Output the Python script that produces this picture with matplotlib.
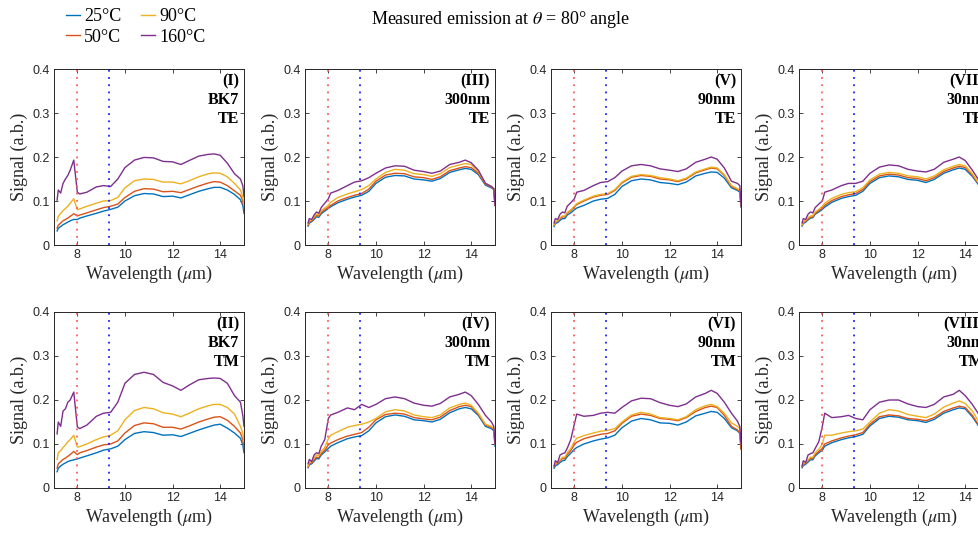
import numpy as np
import matplotlib
matplotlib.use("Agg")
from matplotlib import pyplot as plt

plt.rcParams['font.family'] = 'Liberation Sans'
plt.rcParams['mathtext.fontset'] = 'stix'

# wavelength samples (um)
wl = np.array([7.15, 7.2, 7.3, 7.4, 7.5, 7.6, 7.7, 7.85, 8.0, 8.1, 8.4, 8.8, 9.1, 9.4, 9.7, 10.0,
               10.4, 10.8, 11.2, 11.6, 12.0, 12.35, 12.7, 13.1, 13.5, 13.75, 14.0, 14.3, 14.6,
               14.85, 14.95, 15.0])

temps = ['25°C', '50°C', '90°C', '160°C']

# panel (I) BK7 TE
bk7_te_25 = [0.032, 0.038, 0.042, 0.046, 0.049, 0.052, 0.055, 0.058, 0.058, 0.061, 0.066, 0.072, 0.077, 0.081, 0.086, 0.100, 0.112, 0.117, 0.116, 0.110, 0.111, 0.107, 0.114, 0.122, 0.128, 0.131, 0.131, 0.125, 0.115, 0.103, 0.090, 0.072]
bk7_te_50 = [0.038, 0.045, 0.050, 0.055, 0.058, 0.061, 0.065, 0.071, 0.066, 0.068, 0.073, 0.080, 0.085, 0.088, 0.093, 0.108, 0.122, 0.128, 0.127, 0.121, 0.122, 0.119, 0.126, 0.134, 0.141, 0.144, 0.143, 0.135, 0.123, 0.113, 0.100, 0.082]
bk7_te_90 = [0.055, 0.065, 0.072, 0.078, 0.083, 0.088, 0.095, 0.105, 0.080, 0.082, 0.088, 0.095, 0.100, 0.101, 0.108, 0.130, 0.146, 0.150, 0.149, 0.143, 0.143, 0.139, 0.146, 0.155, 0.162, 0.164, 0.163, 0.155, 0.140, 0.125, 0.110, 0.090]
bk7_te_160 = [0.102, 0.125, 0.118, 0.140, 0.150, 0.158, 0.170, 0.193, 0.120, 0.116, 0.120, 0.132, 0.135, 0.133, 0.150, 0.176, 0.193, 0.199, 0.198, 0.190, 0.189, 0.183, 0.192, 0.202, 0.206, 0.207, 0.204, 0.186, 0.162, 0.150, 0.135, 0.110]

# panel (II) BK7 TM
bk7_tm_25 = [0.037, 0.045, 0.050, 0.054, 0.057, 0.060, 0.062, 0.064, 0.066, 0.068, 0.073, 0.080, 0.086, 0.089, 0.095, 0.110, 0.124, 0.128, 0.126, 0.120, 0.121, 0.117, 0.124, 0.132, 0.139, 0.143, 0.145, 0.136, 0.125, 0.113, 0.098, 0.080]
bk7_tm_50 = [0.045, 0.055, 0.060, 0.065, 0.068, 0.072, 0.076, 0.083, 0.076, 0.080, 0.085, 0.093, 0.098, 0.100, 0.107, 0.125, 0.142, 0.148, 0.146, 0.138, 0.138, 0.134, 0.141, 0.150, 0.157, 0.161, 0.162, 0.154, 0.140, 0.125, 0.110, 0.090]
bk7_tm_90 = [0.065, 0.080, 0.085, 0.092, 0.098, 0.105, 0.110, 0.120, 0.093, 0.094, 0.100, 0.110, 0.116, 0.120, 0.130, 0.155, 0.176, 0.183, 0.180, 0.171, 0.168, 0.162, 0.170, 0.180, 0.187, 0.190, 0.190, 0.183, 0.168, 0.140, 0.125, 0.105]
bk7_tm_160 = [0.123, 0.150, 0.140, 0.175, 0.180, 0.195, 0.200, 0.218, 0.139, 0.135, 0.143, 0.163, 0.170, 0.172, 0.195, 0.238, 0.258, 0.263, 0.258, 0.240, 0.232, 0.222, 0.234, 0.246, 0.249, 0.250, 0.249, 0.238, 0.210, 0.195, 0.165, 0.140]

# panel (III) 300nm TE
f300_te_25 = [0.043, 0.050, 0.053, 0.058, 0.064, 0.063, 0.071, 0.077, 0.083, 0.087, 0.096, 0.104, 0.109, 0.113, 0.122, 0.140, 0.154, 0.158, 0.157, 0.150, 0.148, 0.145, 0.151, 0.165, 0.171, 0.174, 0.172, 0.160, 0.136, 0.130, 0.126, 0.090]
f300_te_50 = [0.045, 0.052, 0.055, 0.061, 0.067, 0.066, 0.074, 0.080, 0.086, 0.090, 0.100, 0.108, 0.113, 0.117, 0.127, 0.145, 0.159, 0.163, 0.162, 0.155, 0.153, 0.149, 0.155, 0.169, 0.175, 0.178, 0.176, 0.163, 0.138, 0.132, 0.127, 0.090]
f300_te_90 = [0.048, 0.055, 0.057, 0.064, 0.070, 0.069, 0.078, 0.084, 0.090, 0.097, 0.108, 0.116, 0.121, 0.126, 0.135, 0.150, 0.165, 0.172, 0.170, 0.162, 0.160, 0.156, 0.162, 0.176, 0.182, 0.185, 0.183, 0.166, 0.140, 0.133, 0.128, 0.090]
f300_te_160 = [0.050, 0.060, 0.058, 0.068, 0.075, 0.072, 0.085, 0.095, 0.105, 0.118, 0.124, 0.135, 0.143, 0.146, 0.153, 0.163, 0.175, 0.180, 0.179, 0.170, 0.167, 0.163, 0.168, 0.183, 0.188, 0.193, 0.187, 0.170, 0.140, 0.133, 0.128, 0.090]

# panel (IV) 300nm TM
f300_tm_25 = [0.046, 0.053, 0.055, 0.061, 0.067, 0.066, 0.075, 0.082, 0.090, 0.095, 0.103, 0.112, 0.116, 0.119, 0.130, 0.148, 0.162, 0.166, 0.163, 0.155, 0.153, 0.150, 0.156, 0.171, 0.180, 0.183, 0.180, 0.165, 0.140, 0.135, 0.130, 0.095]
f300_tm_50 = [0.048, 0.055, 0.057, 0.064, 0.070, 0.069, 0.078, 0.086, 0.098, 0.102, 0.110, 0.118, 0.122, 0.126, 0.138, 0.155, 0.167, 0.170, 0.168, 0.160, 0.157, 0.155, 0.161, 0.176, 0.185, 0.188, 0.185, 0.168, 0.143, 0.138, 0.133, 0.100]
f300_tm_90 = [0.050, 0.058, 0.060, 0.068, 0.075, 0.074, 0.083, 0.092, 0.112, 0.120, 0.128, 0.138, 0.142, 0.145, 0.150, 0.158, 0.173, 0.178, 0.175, 0.166, 0.162, 0.160, 0.166, 0.182, 0.190, 0.193, 0.188, 0.170, 0.145, 0.140, 0.135, 0.100]
f300_tm_160 = [0.055, 0.065, 0.060, 0.075, 0.080, 0.078, 0.095, 0.110, 0.158, 0.166, 0.172, 0.182, 0.178, 0.190, 0.183, 0.190, 0.203, 0.207, 0.203, 0.193, 0.188, 0.186, 0.192, 0.207, 0.213, 0.218, 0.210, 0.190, 0.165, 0.150, 0.140, 0.100]

# panel (V) 90nm TE
f90_te_25 = [0.042, 0.049, 0.051, 0.056, 0.060, 0.060, 0.068, 0.073, 0.080, 0.084, 0.090, 0.100, 0.104, 0.106, 0.115, 0.133, 0.146, 0.150, 0.148, 0.142, 0.140, 0.137, 0.143, 0.157, 0.163, 0.166, 0.165, 0.152, 0.130, 0.124, 0.120, 0.086]
f90_te_50 = [0.045, 0.052, 0.054, 0.060, 0.064, 0.064, 0.072, 0.078, 0.086, 0.092, 0.100, 0.109, 0.113, 0.115, 0.124, 0.141, 0.154, 0.158, 0.156, 0.150, 0.148, 0.144, 0.150, 0.164, 0.171, 0.175, 0.173, 0.158, 0.133, 0.126, 0.123, 0.088]
f90_te_90 = [0.046, 0.053, 0.055, 0.062, 0.066, 0.066, 0.074, 0.080, 0.088, 0.094, 0.102, 0.111, 0.115, 0.117, 0.126, 0.143, 0.156, 0.160, 0.158, 0.153, 0.150, 0.146, 0.152, 0.166, 0.173, 0.177, 0.175, 0.160, 0.135, 0.128, 0.125, 0.090]
f90_te_160 = [0.050, 0.060, 0.058, 0.070, 0.075, 0.073, 0.088, 0.096, 0.105, 0.120, 0.124, 0.135, 0.142, 0.144, 0.153, 0.168, 0.180, 0.183, 0.180, 0.173, 0.170, 0.167, 0.173, 0.188, 0.195, 0.200, 0.195, 0.175, 0.145, 0.140, 0.135, 0.090]

# panel (VI) 90nm TM
f90_tm_25 = [0.045, 0.050, 0.053, 0.058, 0.062, 0.063, 0.071, 0.079, 0.088, 0.092, 0.100, 0.107, 0.111, 0.114, 0.120, 0.137, 0.152, 0.158, 0.155, 0.148, 0.147, 0.143, 0.150, 0.164, 0.170, 0.174, 0.172, 0.158, 0.137, 0.130, 0.124, 0.090]
f90_tm_50 = [0.048, 0.054, 0.056, 0.062, 0.067, 0.067, 0.076, 0.085, 0.098, 0.104, 0.112, 0.118, 0.122, 0.124, 0.130, 0.147, 0.163, 0.168, 0.165, 0.158, 0.156, 0.153, 0.160, 0.174, 0.183, 0.186, 0.183, 0.165, 0.140, 0.132, 0.125, 0.088]
f90_tm_90 = [0.050, 0.056, 0.058, 0.064, 0.070, 0.070, 0.080, 0.090, 0.105, 0.113, 0.119, 0.125, 0.129, 0.131, 0.135, 0.150, 0.166, 0.172, 0.168, 0.160, 0.158, 0.155, 0.162, 0.178, 0.187, 0.190, 0.185, 0.170, 0.148, 0.140, 0.135, 0.100]
f90_tm_160 = [0.050, 0.062, 0.058, 0.075, 0.078, 0.080, 0.090, 0.110, 0.145, 0.168, 0.163, 0.165, 0.170, 0.172, 0.170, 0.183, 0.198, 0.204, 0.203, 0.194, 0.188, 0.185, 0.191, 0.207, 0.215, 0.222, 0.215, 0.195, 0.170, 0.152, 0.140, 0.100]

# panel (VII) 30nm TE
f30_te_25 = [0.043, 0.049, 0.052, 0.057, 0.061, 0.062, 0.070, 0.075, 0.081, 0.086, 0.097, 0.106, 0.110, 0.113, 0.122, 0.140, 0.153, 0.157, 0.155, 0.149, 0.147, 0.142, 0.149, 0.163, 0.171, 0.175, 0.172, 0.156, 0.134, 0.127, 0.123, 0.088]
f30_te_50 = [0.045, 0.051, 0.054, 0.059, 0.063, 0.064, 0.072, 0.078, 0.084, 0.090, 0.101, 0.110, 0.114, 0.117, 0.126, 0.144, 0.157, 0.161, 0.159, 0.153, 0.151, 0.146, 0.153, 0.167, 0.175, 0.179, 0.176, 0.159, 0.136, 0.129, 0.125, 0.089]
f30_te_90 = [0.046, 0.053, 0.056, 0.062, 0.066, 0.067, 0.075, 0.081, 0.088, 0.095, 0.106, 0.115, 0.119, 0.121, 0.130, 0.148, 0.161, 0.165, 0.163, 0.157, 0.155, 0.150, 0.157, 0.171, 0.179, 0.183, 0.180, 0.162, 0.138, 0.131, 0.127, 0.090]
f30_te_160 = [0.050, 0.060, 0.058, 0.070, 0.075, 0.073, 0.085, 0.093, 0.100, 0.120, 0.125, 0.135, 0.140, 0.140, 0.145, 0.163, 0.177, 0.182, 0.180, 0.172, 0.168, 0.166, 0.172, 0.188, 0.195, 0.200, 0.192, 0.170, 0.145, 0.138, 0.132, 0.090]

# panel (VIII) 30nm TM
f30_tm_25 = [0.046, 0.051, 0.054, 0.059, 0.064, 0.064, 0.073, 0.080, 0.086, 0.095, 0.103, 0.110, 0.114, 0.117, 0.122, 0.141, 0.158, 0.163, 0.161, 0.155, 0.153, 0.149, 0.156, 0.170, 0.178, 0.182, 0.180, 0.162, 0.138, 0.131, 0.125, 0.090]
f30_tm_50 = [0.048, 0.054, 0.056, 0.062, 0.067, 0.067, 0.076, 0.083, 0.090, 0.100, 0.107, 0.114, 0.118, 0.121, 0.126, 0.145, 0.162, 0.166, 0.164, 0.158, 0.156, 0.153, 0.160, 0.174, 0.182, 0.186, 0.183, 0.165, 0.140, 0.133, 0.127, 0.092]
f30_tm_90 = [0.050, 0.056, 0.058, 0.064, 0.070, 0.070, 0.080, 0.088, 0.100, 0.120, 0.120, 0.125, 0.128, 0.130, 0.134, 0.150, 0.170, 0.178, 0.175, 0.167, 0.163, 0.160, 0.168, 0.184, 0.193, 0.198, 0.192, 0.175, 0.148, 0.140, 0.135, 0.100]
f30_tm_160 = [0.050, 0.062, 0.058, 0.075, 0.078, 0.080, 0.090, 0.105, 0.140, 0.170, 0.160, 0.162, 0.165, 0.158, 0.155, 0.178, 0.195, 0.200, 0.200, 0.191, 0.185, 0.183, 0.190, 0.207, 0.213, 0.222, 0.210, 0.190, 0.165, 0.150, 0.140, 0.100]

panels = [
    ("(I)\nBK7\nTE", [bk7_te_25, bk7_te_50, bk7_te_90, bk7_te_160]),
    ("(II)\nBK7\nTM", [bk7_tm_25, bk7_tm_50, bk7_tm_90, bk7_tm_160]),
    ("(III)\n300nm\nTE", [f300_te_25, f300_te_50, f300_te_90, f300_te_160]),
    ("(IV)\n300nm\nTM", [f300_tm_25, f300_tm_50, f300_tm_90, f300_tm_160]),
    ("(V)\n90nm\nTE", [f90_te_25, f90_te_50, f90_te_90, f90_te_160]),
    ("(VI)\n90nm\nTM", [f90_tm_25, f90_tm_50, f90_tm_90, f90_tm_160]),
    ("(VII)\n30nm\nTE", [f30_te_25, f30_te_50, f30_te_90, f30_te_160]),
    ("(VIII)\n30nm\nTM", [f30_tm_25, f30_tm_50, f30_tm_90, f30_tm_160]),
]

colors = ['#0072BD', '#D95319', '#EDB120', '#7E2F8E']
serif = 'Liberation Serif'
W, H = 979, 536

fig = plt.figure(figsize=(W/100, H/100), dpi=100)

lefts = [54, 305, 551, 799]
tops = [69, 312]
aw, ah = 190, 176

handles = []
for i, (label, series) in enumerate(panels):
    col, row = i // 2, i % 2
    ax = fig.add_axes([lefts[col]/W, 1 - (tops[row] + ah)/H, aw/W, ah/H])
    for s, c, t in zip(series, colors, temps):
        ln, = ax.plot(wl, s, color=c, lw=1.0, label=t)
        if i == 0:
            handles.append(ln)
    ax.axvline(8.0, color='#ff5a5a', lw=1.3, ls=(0, (1, 3)))
    ax.axvline(9.33, color='#2020ff', lw=1.3, ls=(0, (1, 3)))
    ax.set_xlim(7.02, 15)
    ax.set_ylim(0, 0.4)
    ax.set_xticks([8, 10, 12, 14])
    ax.set_yticks([0, 0.1, 0.2, 0.3, 0.4])
    ax.set_yticklabels(['0', '0.1', '0.2', '0.3', '0.4'])
    ax.tick_params(direction='in', top=True, right=True, length=3, width=0.6,
                   labelsize=9, colors='#262626', pad=3)
    for sp in ax.spines.values():
        sp.set_color('#262626')
        sp.set_linewidth(0.7)
    ax.set_xlabel(r'Wavelength ($\mu$m)', fontfamily=serif, fontsize=13, color='#262626', labelpad=2)
    ax.set_ylabel('Signal (a.b.)', fontfamily=serif, fontsize=13, color='#262626', labelpad=3)
    ax.text(0.975, 0.975, label, transform=ax.transAxes, ha='right', va='top',
            multialignment='right', fontfamily=serif, fontweight='bold', fontsize=11.5,
            linespacing=1.25)

fig.text(0.511, 0.963, r'Measured emission at $\theta$ = 80° angle', ha='center', va='center',
         fontfamily=serif, fontsize=13)

fig.legend(handles=handles, labels=temps, ncol=2, loc='upper left',
           bbox_to_anchor=(66/W, 1 - 8/H), frameon=False,
           prop={'family': serif, 'size': 13}, handlelength=0.75, handletextpad=0.25,
           columnspacing=1.1, labelspacing=0.2, borderpad=0, borderaxespad=0)

fig.savefig('out.png', dpi=100)
